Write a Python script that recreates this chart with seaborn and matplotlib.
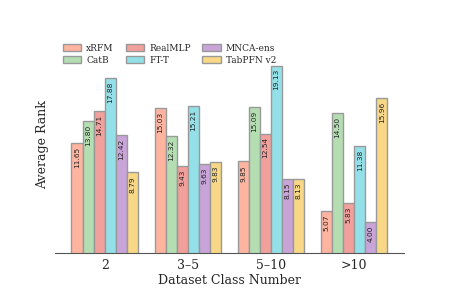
import pandas as pd
import matplotlib
matplotlib.use('Agg')
import matplotlib.pyplot as plt
import seaborn as sns

# data
groups = ['2', '3–5', '5–10', '>10']
models = ['xRFM', 'CatB', 'RealMLP', 'FT-T', 'MNCA-ens', 'TabPFN v2']
xrfm = [11.65, 15.03, 9.85, 5.07]
catb = [13.80, 12.32, 15.09, 14.50]
realmlp = [14.71, 9.43, 12.54, 5.83]
ftt = [17.88, 15.21, 19.13, 11.38]
mnca = [12.42, 9.63, 8.15, 4.00]
tabpfn = [8.79, 9.83, 8.13, 15.96]
colors = ['#FFB4A0', '#B4DEB2', '#F2A09C', '#94E0E8', '#C9A4D9', '#F8D886']

series = [xrfm, catb, realmlp, ftt, mnca, tabpfn]
rows = []
for m, vals in zip(models, series):
    for g, v in zip(groups, vals):
        rows.append({'group': g, 'model': m, 'rank': v})
df = pd.DataFrame(rows)

sns.set_style('white')
plt.rcParams['font.family'] = 'DejaVu Serif'

fig = plt.figure(figsize=(4.49, 2.99), dpi=100)
ax = fig.add_axes([0.122, 0.154, 0.778, 0.726])
sns.barplot(data=df, x='group', y='rank', hue='model', order=groups,
            hue_order=models, palette=colors, saturation=1, width=0.8,
            edgecolor='#999999', linewidth=1, ax=ax)

# value labels inside bars
for cont in ax.containers:
    for bar in cont:
        h = bar.get_height()
        ax.text(bar.get_x() + bar.get_width() / 2, h - 0.35, f'{h:.2f}',
                rotation=90, ha='center', va='top', fontsize=5.3,
                family='DejaVu Sans', color='#222222')

ax.set_ylim(1, 22)
ax.set_xlim(-0.6, 3.6)
ax.set_yticks([])
ax.set_ylabel('Average Rank', fontsize=9)
ax.set_xlabel('Dataset Class Number', fontsize=9, labelpad=2)
ax.tick_params(axis='x', labelsize=9, length=0, pad=4)
for s in ['top', 'right', 'left']:
    ax.spines[s].set_visible(False)
ax.spines['bottom'].set_color('#555555')

ax.legend(ncol=3, loc='upper left', bbox_to_anchor=(0.0, 1.0), frameon=False,
          fontsize=6.5, handlelength=2.0, handleheight=0.8, handletextpad=0.6,
          columnspacing=1.3, labelspacing=0.3)

plt.savefig('out.png', dpi=100)
